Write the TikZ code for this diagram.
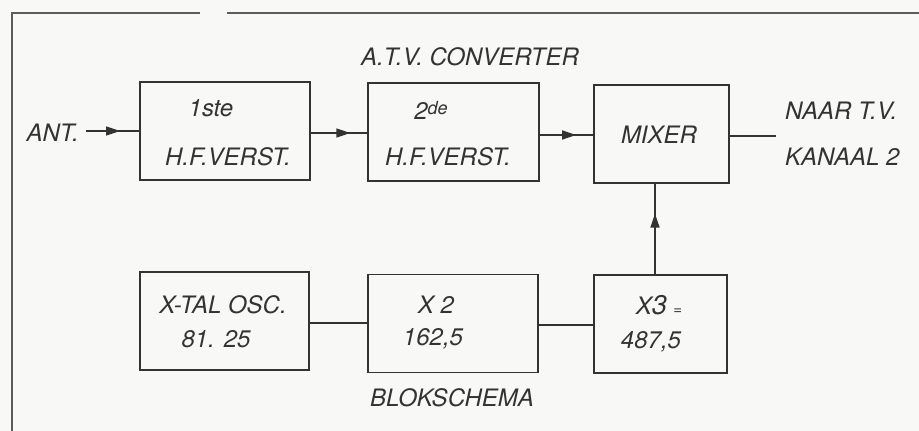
\documentclass[tikz,border=0pt]{standalone}
\usepackage{fontspec}
\setmainfont{TeX Gyre Heros}
\usetikzlibrary{arrows.meta,decorations.markings}
\definecolor{ink}{HTML}{333333}
\definecolor{paper}{HTML}{F8F8F6}
\begin{document}
\begin{tikzpicture}[x=1pt,y=-1pt,
  lbl/.style={font=\fontsize{24}{28}\selectfont\itshape, text=ink, inner sep=0pt},
  box/.style={draw=ink, line width=1.6pt, minimum height=98pt, inner sep=0pt},
  conn/.style={draw=ink, line width=1.6pt},
  frameline/.style={draw=ink!80, line width=1.4pt},
  midarrow/.style={postaction={decorate}, decoration={markings,
     mark=at position #1 with {\arrow{Triangle[length=14pt,width=9pt]}}}}
]
\fill[paper] (0,0) rectangle (919,431);
\useasboundingbox (0,0) rectangle (919,431);
% frame
\coordinate (fa) at (12,431);
\coordinate (fb) at (12,13);
\coordinate (fc) at (200,13);
\coordinate (fd) at (227,13);
\coordinate (fe) at (919,13);
\draw[frameline] (fa) -- (fb) -- (fc);
\draw[frameline] (fd) -- (fe);
% boxes
\node[box, minimum width=170pt] (b1) at (225,131) {};
\node[box, minimum width=171pt] (b2) at (453.5,132) {};
\node[box, minimum width=135pt] (mx) at (661.5,134) {};
\node[box, minimum width=169pt] (b4) at (224.5,321) {};
\node[box, minimum width=170pt] (b5) at (453,323.5) {};
\node[box, minimum width=133pt] (b6) at (660.5,324) {};
% texts
\node[lbl] (tatv) at (470,57) {A.T.V. CONVERTER};
\node[lbl] (tblok) at (452,398) {BLOKSCHEMA};
\node[lbl, anchor=east] (tant) at (79,133) {ANT.};
\node[lbl, anchor=west] (tnaar) at (785,111) {NAAR T.V.};
\node[lbl, anchor=west] (tkan) at (785,157) {KANAAL 2};
\node[lbl] (t1a) at (211,108) {1ste};
\node[lbl] (t1b) at (228,157) {H.F.VERST.};
\node[lbl] (t2a) at (431,110) {2\raisebox{5pt}{\fontsize{18}{20}\selectfont de}};
\node[lbl] (t2b) at (448,157) {H.F.VERST.};
\node[lbl] (tmx) at (659,135) {MIXER};
\node[lbl] (t4a) at (223,305) {X-TAL OSC.};
\node[lbl] (t4b) at (216,339) {81. 25};
\node[lbl] (t5a) at (436,305) {X 2};
\node[lbl] (t5b) at (433,339) {162,5};
\node[lbl] (t6a) at (659,305) {X{\fontsize{27}{29}\selectfont 3} {\fontsize{15}{16}\selectfont =}};
\node[lbl] (t6b) at (651,342) {487,5};
% connectors
\coordinate (antend) at (86,131);
\coordinate (outend) at (776,136);
\draw[conn, midarrow=0.64] (antend) -- (antend -| b1.west);
\draw[conn, midarrow=0.70] (b1.east |- 0,133) -- (b2.west |- 0,133);
\draw[conn, midarrow=0.68] (b2.east |- 0,135) -- (mx.west |- 0,135);
\draw[conn] (mx.east |- outend) -- (outend);
\draw[conn, midarrow=0.67] (b6.north -| 655,0) -- (mx.south -| 655,0);
\draw[conn] (b4.east |- 0,323) -- (b5.west |- 0,323);
\draw[conn] (b5.east |- 0,325) -- (b6.west |- 0,325);
\end{tikzpicture}
\end{document}
